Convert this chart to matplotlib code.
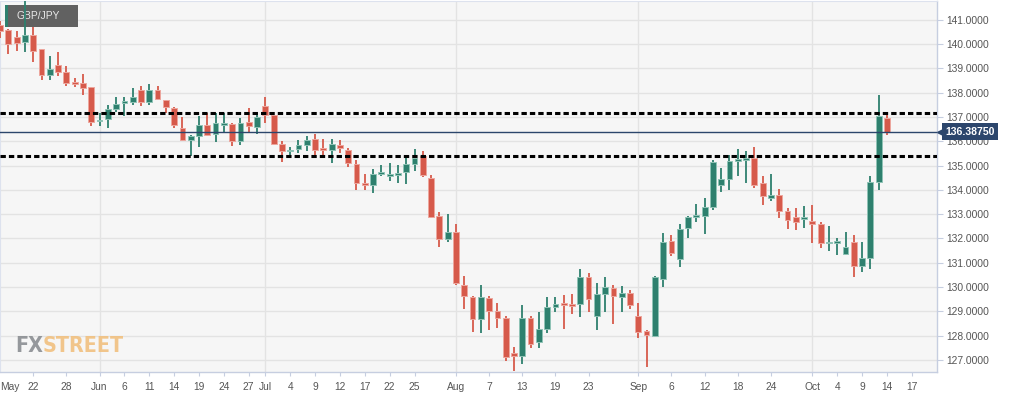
import matplotlib
matplotlib.use('Agg')
import matplotlib.pyplot as plt
import matplotlib.transforms as mtransforms
from matplotlib.patches import Rectangle
import numpy as np
import pandas as pd

# ---------------- data ----------------
symbol = 'GBP/JPY'
first_date = '2019-05-16'
axis_end_date = '2019-10-17'

opens = [140.78, 140.56, 140.29, 140.08, 140.38, 139.79, 138.72, 139.15, 138.85, 138.41,
         138.39, 138.23, 136.83, 136.91, 137.32, 137.60, 137.60, 138.09, 137.60, 138.09,
         137.68, 137.36, 136.54, 136.06, 136.20, 136.65, 136.29, 136.70, 136.72, 135.99,
         136.81, 136.58, 137.46, 137.09, 135.88, 135.60, 135.68, 135.85, 136.09, 135.70,
         135.62, 135.85, 135.62, 135.07, 134.30, 134.21, 134.67, 134.60, 134.62, 134.73,
         135.07, 135.40, 134.48, 132.93, 131.98, 132.26, 130.09, 129.61, 128.68, 129.54,
         129.02, 128.72, 127.30, 127.18, 128.74, 127.73, 128.28, 129.20, 129.31, 129.27,
         129.31, 130.41, 128.83, 129.72, 129.98, 129.61, 129.75, 128.81, 128.19, 128.00,
         130.35, 131.90, 131.15, 132.42, 132.91, 132.94, 133.31, 134.19, 134.44, 135.17,
         135.26, 135.31, 134.28, 133.68, 133.80, 133.11, 132.90, 132.82, 132.72, 132.60,
         131.81, 131.83, 131.37, 131.87, 130.87, 131.21, 134.34, 136.94]
highs = [140.95, 140.62, 140.52, 141.75, 140.72, 139.80, 139.52, 139.67, 139.08, 138.60,
         138.78, 138.25, 137.16, 137.50, 137.82, 137.82, 138.19, 138.28, 138.35, 138.28,
         137.71, 137.40, 136.99, 136.27, 137.05, 137.18, 137.18, 137.16, 136.74, 136.95,
         137.36, 137.22, 137.84, 137.10, 135.99, 135.78, 136.06, 136.20, 136.31, 136.09,
         136.09, 136.06, 135.72, 135.24, 134.65, 134.85, 135.03, 135.10, 135.03, 135.31,
         135.68, 135.58, 134.62, 133.07, 133.00, 132.60, 130.46, 129.62, 130.09, 129.64,
         129.34, 128.80, 127.53, 129.27, 128.83, 128.99, 129.58, 129.58, 129.68, 129.72,
         130.75, 130.57, 130.16, 130.41, 130.09, 130.05, 129.86, 129.34, 128.25, 130.46,
         132.22, 132.15, 132.60, 132.92, 133.41, 133.66, 135.24, 134.89, 135.44, 135.68,
         135.58, 135.76, 134.55, 134.65, 134.03, 133.27, 133.27, 133.34, 133.36, 132.66,
         132.53, 132.01, 132.26, 132.15, 131.85, 134.58, 137.91, 137.20]
lows = [140.26, 139.59, 139.70, 139.67, 139.28, 138.50, 138.50, 138.67, 138.28, 138.23,
        137.91, 136.61, 136.61, 136.54, 137.22, 137.02, 137.50, 137.46, 137.50, 137.71,
        137.16, 136.54, 135.99, 135.40, 135.78, 136.20, 135.95, 136.34, 135.81, 135.85,
        136.40, 136.31, 136.75, 135.85, 135.14, 135.44, 135.51, 135.58, 135.37, 135.37,
        135.10, 135.51, 134.96, 134.00, 134.00, 133.86, 134.55, 134.38, 134.30, 134.25,
        134.76, 134.52, 132.86, 131.64, 131.85, 130.09, 129.09, 128.17, 128.10, 128.24,
        128.31, 126.97, 126.55, 126.83, 127.51, 127.48, 128.13, 128.97, 128.27, 128.88,
        128.76, 128.99, 128.24, 128.99, 128.48, 128.97, 129.09, 127.90, 126.70, 127.94,
        130.00, 131.26, 130.82, 132.01, 132.66, 132.18, 133.18, 133.90, 134.00, 134.59,
        134.28, 134.07, 133.36, 133.56, 132.84, 132.38, 132.33, 132.45, 131.81, 131.60,
        131.50, 131.33, 131.33, 130.43, 130.64, 130.74, 134.00, 136.24]
closes = [140.55, 140.00, 140.04, 140.38, 139.72, 138.74, 138.97, 138.86, 138.39, 138.37,
          138.19, 136.81, 136.87, 137.32, 137.54, 137.63, 137.80, 137.60, 138.09, 137.74,
          137.40, 136.68, 136.06, 136.20, 136.65, 136.27, 136.75, 136.74, 135.99, 136.75,
          136.61, 136.98, 137.09, 135.90, 135.58, 135.63, 135.85, 136.06, 135.65, 135.66,
          135.90, 135.72, 135.10, 134.30, 134.20, 134.65, 134.70, 134.63, 134.69, 135.07,
          135.31, 134.60, 132.90, 131.97, 132.26, 130.16, 129.65, 128.68, 129.61, 129.03,
          128.72, 127.11, 127.18, 128.74, 127.67, 128.27, 129.20, 129.31, 129.27, 129.23,
          130.43, 129.50, 129.70, 129.99, 129.64, 129.77, 129.27, 128.17, 128.03, 130.41,
          131.86, 131.40, 132.38, 132.90, 132.95, 133.31, 135.14, 134.44, 135.17, 135.28,
          135.29, 134.18, 133.75, 133.80, 133.11, 132.77, 132.66, 132.86, 132.60, 131.83,
          131.85, 131.87, 131.64, 130.87, 131.19, 134.32, 137.05, 136.3875]

last_price = 136.3875
dashed_levels = [137.17, 135.41]

first_month_label = 'May'
tick_dates = ['2019-05-22', '2019-05-28', '2019-06-03', '2019-06-06', '2019-06-11',
              '2019-06-14', '2019-06-19', '2019-06-24', '2019-06-27', '2019-07-01',
              '2019-07-04', '2019-07-09', '2019-07-12', '2019-07-17', '2019-07-22',
              '2019-07-25', '2019-08-01', '2019-08-07', '2019-08-13', '2019-08-19',
              '2019-08-23', '2019-09-02', '2019-09-06', '2019-09-12', '2019-09-18',
              '2019-09-24', '2019-10-01', '2019-10-04', '2019-10-09', '2019-10-14',
              '2019-10-17']
tick_labels = ['22', '28', 'Jun', '6', '11', '14', '19', '24', '27', 'Jul',
               '4', '9', '12', '17', '22', '25', 'Aug', '7', '13', '19',
               '23', 'Sep', '6', '12', '18', '24', 'Oct', '4', '9', '14', '17']
month_start_dates = ['2019-06-03', '2019-07-01', '2019-08-01', '2019-09-02', '2019-10-01']
y_ticks = list(range(127, 142))

# ---------------- style ----------------
GREEN = '#2e806e'
GREEN_EDGE = '#8fc3b6'
RED = '#d65a4b'
RED_EDGE = '#eda69d'
NAVY = '#2c466c'
GRID = '#e3e3e3'
AXISC = '#c6cee0'
TXT = '#555555'
FONT = ['Liberation Sans', 'DejaVu Sans']
plt.rcParams['font.family'] = FONT

W, H = 1018, 398
fig = plt.figure(figsize=(W / 100, H / 100), dpi=100)
fig.patch.set_facecolor('white')
ax = fig.add_axes([0.0, 26 / H, 936.7 / W, 371 / H])
ax.set_facecolor('#f6f6f6')

cal = pd.bdate_range(first_date, axis_end_date)
pos = {d.strftime('%Y-%m-%d'): i for i, d in enumerate(cal)}

O = np.array(opens); C = np.array(closes)
Hh = np.array(highs); L = np.array(lows)
x = np.arange(len(O))
up = C >= O
col = np.where(up, GREEN, RED)
ecol = np.where(up, GREEN_EDGE, RED_EDGE)
min_h = 0.07
body_h = np.abs(C - O)
mid = (O + C) / 2
bottom = np.where(body_h < min_h, mid - min_h / 2, np.minimum(O, C))
body_h = np.maximum(body_h, min_h)

ax.set_xlim(-0.01, 113.0)
ax.set_ylim(126.506, 141.77)

# grid
ax.set_yticks(y_ticks)
ax.yaxis.grid(True, color=GRID, lw=1.0, zorder=0)
ax.set_axisbelow(True)
for d in month_start_dates:
    ax.axvline(pos[d], color=GRID, lw=1.0, zorder=0.5)

# symbol badge (in figure pixels)
px = lambda v: v / W
py = lambda v: (H - v) / H
ax.add_patch(Rectangle((px(5), py(27)), px(78) - px(5), py(5) - py(27),
                       transform=fig.transFigure, facecolor='#616161', edgecolor='none',
                       zorder=1.5, clip_on=False))
ax.add_patch(Rectangle((px(5), py(27)), px(8) - px(5), py(5) - py(27),
                       transform=fig.transFigure, facecolor=GREEN, edgecolor='none',
                       zorder=1.6, clip_on=False))
ax.text(px(38.5), py(16), symbol, transform=fig.transFigure, ha='center', va='center',
        fontsize=7.4, color='#e8e8e8', zorder=1.7)

# watermark logo
LOGO_FONT = ['Liberation Sans Narrow', 'DejaVu Sans']
t1 = ax.text(px(15), py(352), 'FX', transform=fig.transFigure, ha='left', va='baseline',
             fontsize=16, fontweight='bold', fontstretch='condensed',
             family=LOGO_FONT, color='#8b8e92', alpha=0.9, zorder=1.2)
t2 = ax.annotate('STREET', xy=(1, 0), xycoords=t1, ha='left', va='bottom',
                 fontsize=16, fontweight='bold', fontstretch='condensed',
                 family=LOGO_FONT, color='#f1c07f', alpha=0.9, zorder=1.2)
fig.canvas.draw()
r = fig.canvas.get_renderer()
wtot = t1.get_window_extent(r).width + t2.get_window_extent(r).width
scale = 110.0 / wtot
t1.set_fontsize(16 * scale)
t2.set_fontsize(16 * scale)

# candles
ax.vlines(x, L, Hh, colors=col, lw=1.3, zorder=3)
ax.bar(x, body_h, bottom=bottom, width=0.7, color=col, edgecolor=ecol,
       linewidth=0.7, zorder=4)

# support/resistance dashed lines
for lv in dashed_levels:
    ax.axhline(lv, color='black', lw=2.2, linestyle=(0, (1.75, 1.0)), zorder=6)

# last price line and label
ax.axhline(last_price, color=NAVY, lw=1.0, zorder=5)
blend = mtransforms.blended_transform_factory(ax.transAxes, ax.transData)
ax.annotate(f'{last_price:.5f}', xy=(1.0, last_price), xycoords=blend,
            xytext=(6.4, 0), textcoords='offset points', ha='left', va='center',
            fontsize=7.6, fontweight='bold', color='white', zorder=10,
            annotation_clip=False,
            bbox=dict(boxstyle='square,pad=0.32', fc=NAVY, ec='none'))
ax.plot([1.0], [last_price], marker='<', ms=5, color=NAVY, clip_on=False, zorder=10,
        transform=mtransforms.offset_copy(blend, fig=fig, x=3.2, y=0, units='dots'))

# axes: ticks
ax.yaxis.tick_right()
ax.set_yticklabels([f'{v:.4f}' for v in y_ticks])
ax.tick_params(axis='y', length=4, width=0.8, color=AXISC, pad=3,
               labelsize=7.4, labelcolor=TXT)
xt = [ax.get_xlim()[0]] + [pos[d] for d in tick_dates]
ax.set_xticks(xt)
ax.set_xticklabels([first_month_label] + tick_labels)
ax.tick_params(axis='x', length=3, width=0.8, color=AXISC, pad=4,
               labelsize=7.4, labelcolor=TXT)
ax.get_xticklabels()[0].set_ha('left')
ax.xaxis.get_major_ticks()[0].tick1line.set_visible(False)

for s in ['bottom', 'right']:
    ax.spines[s].set_color(AXISC)
    ax.spines[s].set_linewidth(1.0)
for s in ['top', 'left']:
    ax.spines[s].set_color('#dde2ee')
    ax.spines[s].set_linewidth(0.8)

fig.savefig('out.png', dpi=100, facecolor='white')
